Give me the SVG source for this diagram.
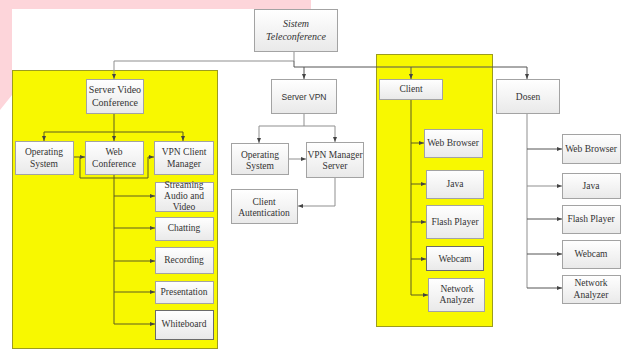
<svg xmlns="http://www.w3.org/2000/svg" width="627" height="349" viewBox="0 0 627 349">
<style>
.bx{fill:url(#g);stroke:#a3a3a3;stroke-width:1}
.dk{stroke:#6b6b6b}
.t{font-family:"Liberation Serif","Times New Roman",serif;font-size:9.5px;fill:#333;text-anchor:middle}
.t10{font-size:10px}
.it{font-style:italic;font-size:10px}
.sans{font-family:"Liberation Sans",Arial,sans-serif;font-size:8.5px}
.panel{fill:#f8f800;stroke:#9c9c1e;stroke-width:1}
.c{fill:none;stroke:#8f8f8f;stroke-width:1}
.cd{fill:none;stroke:#555;stroke-width:1}
.cy{fill:none;stroke:#5c5c22;stroke-width:1}
</style>
<defs>
<linearGradient id="g" x1="0" y1="0" x2="0" y2="1">
<stop offset="0" stop-color="#ffffff"/>
<stop offset="1" stop-color="#e9e9e9"/>
</linearGradient>
<marker id="a" markerWidth="5" markerHeight="5" refX="5" refY="2.5" orient="auto" markerUnits="userSpaceOnUse">
<path d="M0,0.5 L5,2.5 L0,4.5 Z" fill="#444"/>
</marker>
</defs>
<rect width="627" height="349" fill="#fff"/>
<polygon points="0,0 311,0 311,9 12,9 12,95 0,110" fill="#fdd5da"/>
<rect class="panel" x="12.5" y="70.5" width="205" height="278"/>
<rect class="panel" x="376.5" y="54.5" width="116" height="272"/>

<g id="connectors">
<path class="c" d="M294,52 V61 H114 V79" marker-end="url(#a)"/>
<path class="cd" d="M294,61 V67 H527 V79" marker-end="url(#a)"/>
<path class="cd" d="M304,67 V79" marker-end="url(#a)"/>
<path class="cd" d="M411,67 V79" marker-end="url(#a)"/>
<path class="cy" d="M114,113 V132 H44 V141" marker-end="url(#a)"/>
<path class="cy" d="M114,132 V141" marker-end="url(#a)"/>
<path class="cy" d="M114,132 H183 V141" marker-end="url(#a)"/>
<path class="cy" d="M73,157 H85" marker-end="url(#a)"/>
<path class="cy" d="M80,157 V178 H148 V157 H154" marker-end="url(#a)"/>
<path class="cy" d="M114,175 V324"/>
<path class="cy" d="M114,196 H155" marker-end="url(#a)"/>
<path class="cy" d="M114,228 H155" marker-end="url(#a)"/>
<path class="cy" d="M114,261 H155" marker-end="url(#a)"/>
<path class="cy" d="M114,292 H155" marker-end="url(#a)"/>
<path class="cy" d="M114,324 H155" marker-end="url(#a)"/>
<path class="c" d="M304,114 V126 H259 V143" marker-end="url(#a)"/>
<path class="c" d="M304,126 H335 V142" marker-end="url(#a)"/>
<path class="c" d="M289,159 H306" marker-end="url(#a)"/>
<path class="c" d="M335,178 V206 H298" marker-end="url(#a)"/>
<path class="cy" d="M411,100 V295"/>
<path class="cy" d="M411,143 H424" marker-end="url(#a)"/>
<path class="cy" d="M411,184 H426" marker-end="url(#a)"/>
<path class="cy" d="M411,222 H426" marker-end="url(#a)"/>
<path class="cy" d="M411,259 H426" marker-end="url(#a)"/>
<path class="cy" d="M411,295 H428" marker-end="url(#a)"/>
<path class="c" d="M527,114 V288"/>
<path class="cd" d="M527,149 H562" marker-end="url(#a)"/>
<path class="c" d="M527,186 H562" marker-end="url(#a)"/>
<path class="cd" d="M527,219 H562" marker-end="url(#a)"/>
<path class="cd" d="M527,254 H562" marker-end="url(#a)"/>
<path class="cd" d="M527,288 H562" marker-end="url(#a)"/>
</g>

<g id="sistem"><rect class="bx" x="254.5" y="9.5" width="83" height="42"/><text class="t it" x="296" y="27">Sistem</text><text class="t it" x="296" y="40">Teleconference</text></g>

<g id="svc"><rect class="bx" x="86.5" y="79.5" width="57" height="34"/><text class="t t10" x="115" y="93">Server Video</text><text class="t t10" x="115" y="106">Conference</text></g>
<g id="svc-os"><rect class="bx" x="15.5" y="141.5" width="58" height="33"/><text class="t" x="44" y="155">Operating</text><text class="t" x="44" y="167">System</text></g>
<g id="svc-wc"><rect class="bx" x="85.5" y="141.5" width="58" height="33"/><text class="t" x="114" y="155">Web</text><text class="t" x="114" y="167">Conference</text></g>
<g id="svc-vpncm"><rect class="bx" x="154.5" y="141.5" width="59" height="33"/><text class="t" x="184" y="155">VPN Client</text><text class="t" x="184" y="167">Manager</text></g>
<g id="svc-stream"><rect class="bx" x="155.5" y="182.5" width="58" height="29"/><text class="t" x="184" y="188">Streaming</text><text class="t" x="184" y="199">Audio and</text><text class="t" x="184" y="210">Video</text></g>
<g id="svc-chat"><rect class="bx" x="155.5" y="217.5" width="58" height="23"/><text class="t" x="184" y="231">Chatting</text></g>
<g id="svc-rec"><rect class="bx" x="155.5" y="247.5" width="58" height="26"/><text class="t" x="184" y="263">Recording</text></g>
<g id="svc-pres"><rect class="bx" x="155.5" y="281.5" width="58" height="22"/><text class="t" x="184" y="295">Presentation</text></g>
<g id="svc-wb"><rect class="bx dk" x="155.5" y="310.5" width="58" height="29"/><text class="t" x="184" y="327">Whiteboard</text></g>

<g id="vpn"><rect class="bx" x="271.5" y="79.5" width="65" height="34"/><text class="t sans" x="304" y="100">Server VPN</text></g>
<g id="vpn-os"><rect class="bx" x="231.5" y="143.5" width="57" height="31"/><text class="t" x="260" y="158">Operating</text><text class="t" x="260" y="169">System</text></g>
<g id="vpn-ms"><rect class="bx" x="306.5" y="142.5" width="57" height="35"/><text class="t" x="335" y="158">VPN Manager</text><text class="t" x="335" y="169">Server</text></g>
<g id="vpn-ca"><rect class="bx" x="231.5" y="189.5" width="66" height="34"/><text class="t" x="264" y="205">Client</text><text class="t" x="264" y="216">Autentication</text></g>

<g id="client"><rect class="bx" x="379.5" y="79.5" width="63" height="20"/><text class="t" x="411" y="92">Client</text></g>
<g id="client-wb"><rect class="bx" x="424.5" y="129.5" width="58" height="28"/><text class="t" x="453" y="146">Web Browser</text></g>
<g id="client-java"><rect class="bx" x="426.5" y="170.5" width="57" height="28"/><text class="t" x="455" y="187">Java</text></g>
<g id="client-flash"><rect class="bx" x="426.5" y="205.5" width="57" height="33"/><text class="t" x="455" y="225">Flash Player</text></g>
<g id="client-webcam"><rect class="bx dk" x="426.5" y="246.5" width="57" height="24"/><text class="t" x="455" y="262">Webcam</text></g>
<g id="client-na"><rect class="bx" x="428.5" y="278.5" width="56" height="33"/><text class="t" x="457" y="292">Network</text><text class="t" x="457" y="303">Analyzer</text></g>

<g id="dosen"><rect class="bx" x="496.5" y="79.5" width="63" height="34"/><text class="t" x="528" y="100">Dosen</text></g>
<g id="dosen-wb"><rect class="bx" x="562.5" y="134.5" width="58" height="29"/><text class="t" x="591" y="152">Web Browser</text></g>
<g id="dosen-java"><rect class="bx" x="562.5" y="173.5" width="58" height="25"/><text class="t" x="591" y="189">Java</text></g>
<g id="dosen-flash"><rect class="bx" x="562.5" y="205.5" width="58" height="28"/><text class="t" x="591" y="222">Flash Player</text></g>
<g id="dosen-webcam"><rect class="bx" x="562.5" y="240.5" width="58" height="28"/><text class="t" x="591" y="257">Webcam</text></g>
<g id="dosen-na"><rect class="bx" x="562.5" y="275.5" width="58" height="28"/><text class="t" x="591" y="286">Network</text><text class="t" x="591" y="298">Analyzer</text></g>
</svg>
